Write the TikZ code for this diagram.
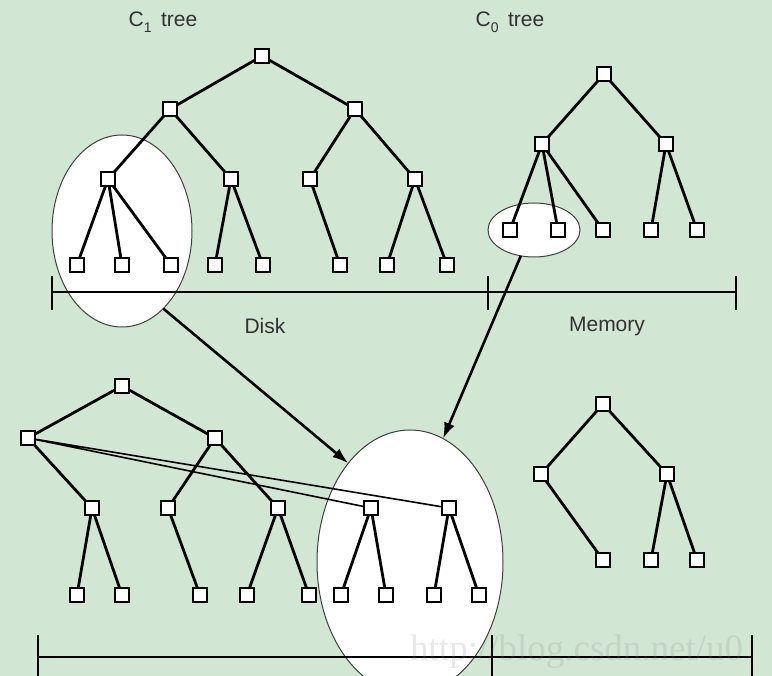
\documentclass[tikz,border=0pt]{standalone}
\usepackage{fontspec}
\setmainfont{Liberation Sans}
\newfontfamily\wmfont{Liberation Serif}
\usetikzlibrary{shapes.geometric,arrows.meta}
\definecolor{bgreen}{RGB}{210,230,212}
\definecolor{txtgray}{RGB}{50,50,50}
\tikzset{
  nd/.style={draw=black, fill=white, line width=2.2pt, minimum size=14.5pt, inner sep=0pt, outer sep=0pt, rectangle},
  edge/.style={line width=2.8pt, black},
  thinedge/.style={line width=1.6pt, black},
  bubble/.style={ellipse, draw=black!75, line width=1pt, fill=white, inner sep=0pt, outer sep=0pt},
  axis/.style={line width=2.6pt, black},
  tick/.style={line width=2pt, black},
  arr/.style={line width=2.6pt, black, -{Latex[length=16pt,width=11pt]}},
  lbl/.style={text=txtgray, font=\fontsize{21}{24}\selectfont, inner sep=0pt}
}
\newcommand{\lowsub}[1]{\raisebox{-0.28em}{\fontsize{14}{16}\selectfont #1}}
\begin{document}
\begin{tikzpicture}[x=1pt,y=-1pt]
\useasboundingbox (0,0) rectangle (772,676);
\clip (0,0) rectangle (772,676);
\fill[bgreen] (0,0) rectangle (772,676);

% ellipses
\node[bubble, minimum width=140pt, minimum height=192pt] (E1) at (122,231) {};
\node[bubble, minimum width=92pt, minimum height=54pt] (E2) at (534,230) {};
\node[bubble, minimum width=186pt, minimum height=264pt] (E3) at (410,562) {};

% labels
\node[lbl] (t1) at (163,22) {C\lowsub{1}\hspace{0.45em}tree};
\node[lbl] (t0) at (510,22) {C\lowsub{0}\hspace{0.45em}tree};
\node[lbl] (disk) at (265,326) {Disk};
\node[lbl] (mem) at (607,326) {Memory};

% ===== Upper C1 tree =====
\coordinate (a) at (262,56);
\coordinate (b1) at (170,109);
\coordinate (b2) at (355,109);
\coordinate (c1) at (108,179);
\coordinate (c2) at (231,179);
\coordinate (c3) at (310,179);
\coordinate (c4) at (415,179);
\coordinate (l1) at (77,265);
\coordinate (l2) at (122,265);
\coordinate (l3) at (171,265);
\coordinate (l4) at (215,265);
\coordinate (l5) at (263,265);
\coordinate (l6) at (340,265);
\coordinate (l7) at (387,265);
\coordinate (l8) at (447,265);
\draw[edge] (a) -- (b1) (a) -- (b2)
  (b1) -- (c1) (b1) -- (c2) (b2) -- (c3) (b2) -- (c4)
  (c1) -- (l1) (c1) -- (l2) (c1) -- (l3)
  (c2) -- (l4) (c2) -- (l5) (c3) -- (l6) (c4) -- (l7) (c4) -- (l8);
\foreach \p in {a,b1,b2,c1,c2,c3,c4,l1,l2,l3,l4,l5,l6,l7,l8}
  \node[nd] (U\p) at (\p) {};

% ===== Upper C0 tree =====
\coordinate (ma) at (604,74);
\coordinate (mb1) at (542,144);
\coordinate (mb2) at (666,144);
\coordinate (ml1) at (510,230);
\coordinate (ml2) at (558,230);
\coordinate (ml3) at (603,230);
\coordinate (ml4) at (651,230);
\coordinate (ml5) at (697,230);
\draw[edge] (ma) -- (mb1) (ma) -- (mb2)
  (mb1) -- (ml1) (mb1) -- (ml2) (mb1) -- (ml3)
  (mb2) -- (ml4) (mb2) -- (ml5);
\foreach \p in {ma,mb1,mb2,ml1,ml2,ml3,ml4,ml5}
  \node[nd] (U\p) at (\p) {};

% upper axis
\coordinate (ax1) at (52,292);
\coordinate (ax2) at (488,292);
\coordinate (ax3) at (736,292);
\draw[axis] (ax1) -- (ax3);
\draw[tick] ([yshift=-18pt]ax1) -- ([yshift=16pt]ax1);
\draw[tick] ([yshift=-18pt]ax2) -- ([yshift=16pt]ax2);
\draw[tick] ([yshift=-18pt]ax3) -- ([yshift=16pt]ax3);

% ===== Lower left (disk) tree =====
\coordinate (da) at (122,386);
\coordinate (db1) at (28,438);
\coordinate (db2) at (215,438);
\coordinate (dc1) at (92,508);
\coordinate (dc2) at (168,508);
\coordinate (dc3) at (278,508);
\coordinate (dc4) at (371,508);
\coordinate (dc5) at (449,508);
\coordinate (dl1) at (77,595);
\coordinate (dl2) at (122,595);
\coordinate (dl3) at (200,595);
\coordinate (dl4) at (247,595);
\coordinate (dl5) at (309,595);
\coordinate (dl6) at (341,595);
\coordinate (dl7) at (386,595);
\coordinate (dl8) at (434,595);
\coordinate (dl9) at (479,595);
\draw[edge] (da) -- (db1) (da) -- (db2)
  (db1) -- (dc1) (db2) -- (dc2) (db2) -- (dc3)
  (dc1) -- (dl1) (dc1) -- (dl2) (dc2) -- (dl3)
  (dc3) -- (dl4) (dc3) -- (dl5)
  (dc4) -- (dl6) (dc4) -- (dl7) (dc5) -- (dl8) (dc5) -- (dl9);
\draw[thinedge] (db1) -- (dc4) (db1) -- (dc5);
\foreach \p in {da,db1,db2,dc1,dc2,dc3,dc4,dc5,dl1,dl2,dl3,dl4,dl5,dl6,dl7,dl8,dl9}
  \node[nd] (L\p) at (\p) {};

% ===== Lower right (memory) tree =====
\coordinate (na) at (603,404);
\coordinate (nb1) at (541,474);
\coordinate (nb2) at (667,474);
\coordinate (nl1) at (603,560);
\coordinate (nl2) at (651,560);
\coordinate (nl3) at (697,560);
\draw[edge] (na) -- (nb1) (na) -- (nb2)
  (nb1) -- (nl1) (nb2) -- (nl2) (nb2) -- (nl3);
\foreach \p in {na,nb1,nb2,nl1,nl2,nl3}
  \node[nd] (L\p) at (\p) {};

% lower axis
\coordinate (bx1) at (38,657);
\coordinate (bx2) at (492,657);
\coordinate (bx3) at (752,657);
\draw[axis] (bx1) -- (bx3);
\draw[tick] ([yshift=-20pt]bx1) -- ([yshift=22pt]bx1);
\draw[tick] ([yshift=-20pt]bx2) -- ([yshift=22pt]bx2);
\draw[tick] ([yshift=-20pt]bx3) -- ([yshift=22pt]bx3);

% arrows
\draw[arr] (E1.-62) -- (E3.122);
\draw[arr] (E2.-117) -- (E3.75);

% watermark
\node[anchor=base west, inner sep=0pt, text=gray, opacity=0.18, font=\wmfont\fontsize{37}{40}\selectfont] (wm) at (410,660) {http://blog.csdn.net/u0};
\end{tikzpicture}
\end{document}
